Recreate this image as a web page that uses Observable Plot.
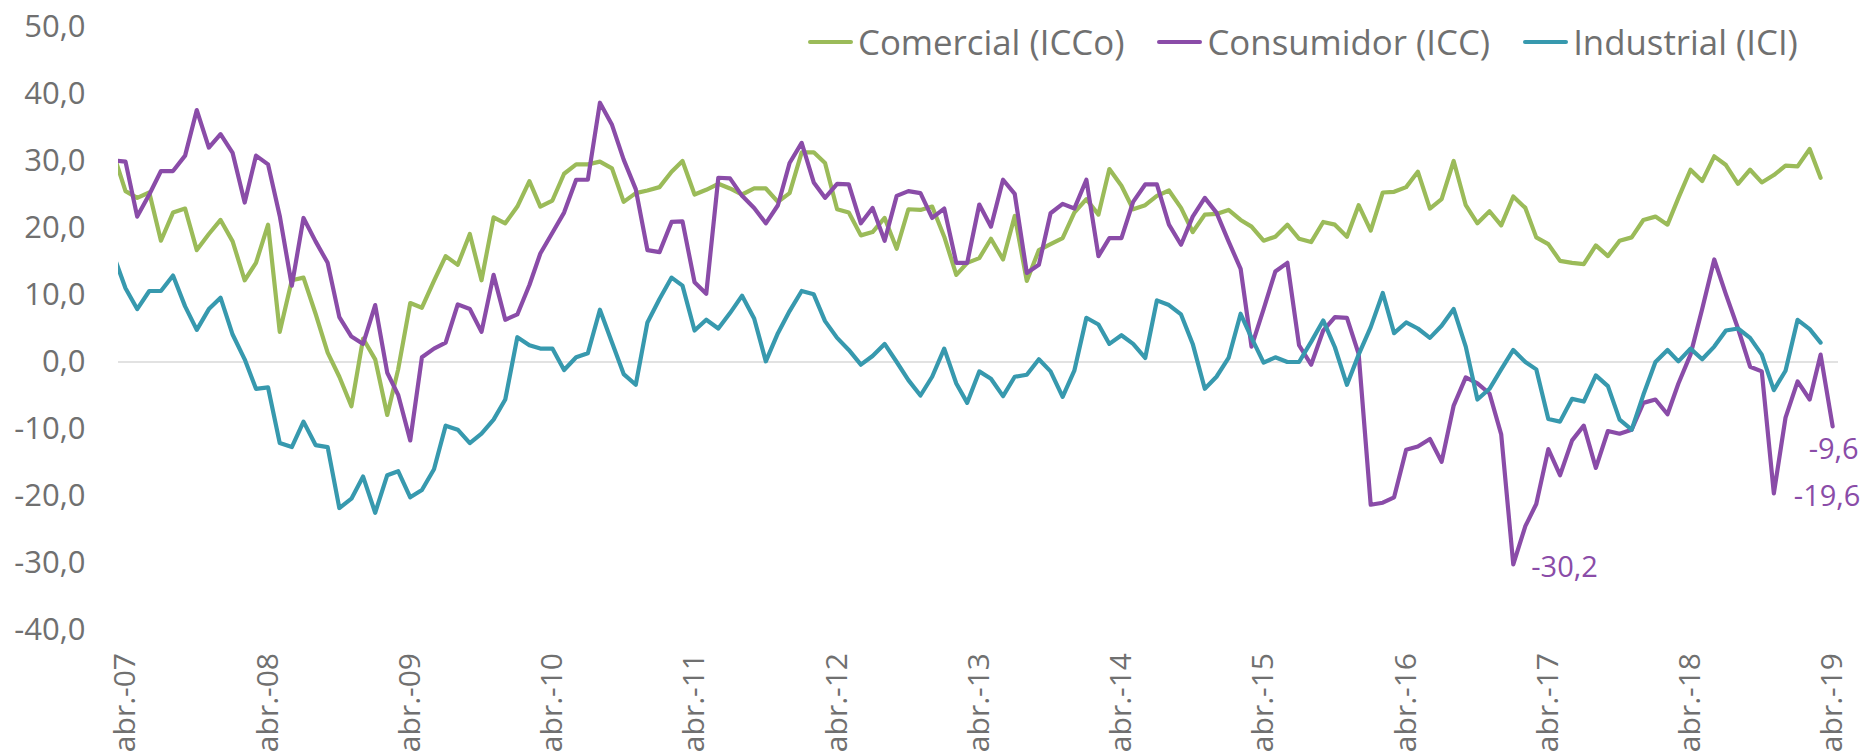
<!DOCTYPE html>
<html>
<head>
<meta charset="utf-8">
<script src="https://cdn.jsdelivr.net/npm/d3@7"></script>
<script src="https://cdn.jsdelivr.net/npm/@observablehq/plot@0.6"></script>
<style>
  html, body { margin: 0; padding: 0; background: #fff; }
  #wrap { position: relative; width: 1860px; height: 756px; overflow: hidden; }
  #legend { position: absolute; left: 808px; top: 25px; display: flex; align-items: center;
            font-family: "Open Sans", sans-serif; font-size: 34.8px; line-height: 34px; color: #707070; white-space: nowrap; }
  .item { display: flex; align-items: center; margin-right: 33px; }
  .sw { width: 45px; height: 4.5px; border-radius: 2px; margin-right: 5px; }
</style>
</head>
<body>
<div id="wrap"><div id="legend"></div></div>
<script>
// Series names and colours
const seriesNames = ["Comercial (ICCo)", "Consumidor (ICC)", "Industrial (ICI)"];
const seriesColors = ["#9BBB59", "#8A4CA8", "#3799AE"];

// Monthly values starting March 2007
const comercial = [31.1,
  25.5,24.5,25.3,18.1,22.3,22.9,16.7,19.1,21.2,18.0,12.2,14.8,
  20.5,4.5,12.2,12.6,7.2,1.4,-2.2,-6.6,3.5,0.4,-7.9,-1.1,
  8.8,8.1,12.1,15.8,14.5,19.1,12.2,21.6,20.7,23.2,27.0,23.2,
  24.1,28.1,29.5,29.5,29.9,28.9,23.9,25.2,25.6,26.1,28.4,30.0,
  25.0,25.7,26.6,25.9,25.0,25.9,25.9,23.9,25.2,31.3,31.3,29.7,
  22.8,22.3,18.9,19.4,21.5,16.9,22.8,22.7,23.2,18.7,13.0,14.8,
  15.5,18.4,15.3,21.8,12.1,16.7,17.6,18.5,22.3,24.3,22.0,28.8,
  26.3,22.8,23.4,24.8,25.6,23.0,19.4,22.0,22.1,22.7,21.2,20.2,
  18.1,18.7,20.5,18.4,17.9,20.9,20.5,18.7,23.4,19.6,25.3,25.4,
  26.1,28.4,22.9,24.3,30.0,23.4,20.7,22.5,20.4,24.7,23.0,18.6,
  17.6,15.1,14.8,14.6,17.4,15.8,18.1,18.6,21.2,21.7,20.5,24.5,
  28.7,27.0,30.7,29.4,26.6,28.7,26.8,27.9,29.3,29.2,31.8,27.5];

const consumidor = [30.1,
  29.9,21.7,25.0,28.5,28.5,30.8,37.6,32.0,34.0,31.2,23.8,30.8,
  29.5,21.8,11.4,21.5,18.0,14.8,6.7,3.8,2.7,8.5,-1.6,-4.9,
  -11.7,0.7,2.0,2.9,8.6,7.9,4.5,13.0,6.3,7.1,11.5,16.2,
  19.3,22.3,27.2,27.2,38.7,35.4,30.2,25.8,16.7,16.4,20.9,21.0,
  11.9,10.2,27.5,27.4,24.8,23.0,20.7,23.4,29.7,32.7,26.8,24.5,
  26.6,26.5,20.7,23.0,18.1,24.8,25.5,25.2,21.5,22.9,14.8,14.8,
  23.5,20.2,27.2,25.1,13.3,14.5,22.2,23.6,22.9,27.2,15.8,18.5,
  18.5,23.9,26.5,26.5,20.5,17.5,21.7,24.5,22.3,18.0,13.9,2.3,
  7.9,13.5,14.8,2.5,-0.4,4.7,6.7,6.6,1.2,-21.3,-21.0,-20.2,
  -13.1,-12.6,-11.5,-14.9,-6.5,-2.3,-3.2,-4.7,-10.8,-30.2,-24.5,-21.2,
  -13.0,-16.9,-11.7,-9.5,-15.8,-10.3,-10.7,-10.1,-6.1,-5.6,-7.8,-3.2,
  1.1,7.9,15.3,10.1,5.0,-0.7,-1.4,-19.6,-8.3,-2.9,-5.6,1.1,
  -9.6];

const industrial = [16.0,
  11.0,7.9,10.6,10.6,12.9,8.3,4.8,7.9,9.6,4.1,0.4,-4.0,
  -3.8,-12.1,-12.7,-8.9,-12.4,-12.7,-21.8,-20.4,-17.1,-22.5,-16.9,-16.3,
  -20.2,-19.1,-16.0,-9.5,-10.1,-12.1,-10.7,-8.6,-5.6,3.7,2.5,2.0,
  2.0,-1.2,0.7,1.3,7.8,2.9,-1.8,-3.4,5.9,9.4,12.6,11.4,
  4.7,6.3,5.0,7.3,9.9,6.5,0.1,4.3,7.6,10.6,10.1,6.1,
  3.6,1.8,-0.4,0.9,2.7,0.0,-2.7,-5.0,-2.2,2.0,-3.2,-6.1,
  -1.4,-2.5,-5.1,-2.2,-1.9,0.4,-1.4,-5.2,-1.3,6.6,5.6,2.7,
  4.0,2.7,0.6,9.2,8.5,7.1,2.7,-4.0,-2.2,0.6,7.2,3.6,
  -0.1,0.7,0.0,0.0,3.0,6.2,2.2,-3.4,1.1,5.2,10.3,4.3,
  5.9,5.0,3.6,5.4,7.9,2.3,-5.6,-4.0,-1.1,1.8,0.0,-1.1,
  -8.5,-8.9,-5.5,-5.9,-2.0,-3.6,-8.6,-10.1,-4.9,0.0,1.8,0.1,
  2.0,0.4,2.3,4.7,5.0,3.6,1.1,-4.2,-1.3,6.3,4.9,2.9];

// Axis ticks
const yTicks = [50, 40, 30, 20, 10, 0, -10, -20, -30, -40];
const tickLabels = ["abr.-07","abr.-08","abr.-09","abr.-10","abr.-11","abr.-12","abr.-13",
                    "abr.-14","abr.-15","abr.-16","abr.-17","abr.-18","abr.-19"];

// Annotated values (ICC)
const annLabels = ["-30,2", "-19,6", "-9,6"];
const annMonths = ["2017-01", "2018-11", "2019-04"];
const annValues = [-30.2, -19.6, -9.6];

// ---- build table ----
const start = new Date(Date.UTC(2007, 2, 1));
const monthAt = i => d3.utcMonth.offset(start, i);
const allSeries = [comercial, consumidor, industrial];
const rows = [];
allSeries.forEach((vals, s) => vals.forEach((v, i) => rows.push({date: monthAt(i), value: v, series: seriesNames[s]})));
const tickDates = tickLabels.map((_, k) => new Date(Date.UTC(2007 + k, 3, 1)));
const parseM = s => { const [y, m] = s.split("-").map(Number); return new Date(Date.UTC(y, m - 1, 1)); };
const ann = annLabels.map((t, k) => ({date: parseM(annMonths[k]), value: annValues[k], label: t}));
const fmtY = d => d.toFixed(1).replace(".", ",");
const fmtX = d => tickLabels[d.getUTCFullYear() - 2007];

const annStyle = {x: "date", y: "value", text: "label", fill: seriesColors[1], fontSize: 29, textAnchor: "start"};

const chart = Plot.plot({
  width: 1860,
  height: 756,
  marginLeft: 118,
  marginRight: 22,
  marginTop: 26.5,
  marginBottom: 126.5,
  style: {fontFamily: "'Open Sans', sans-serif", color: "#707070", background: "white"},
  x: {type: "utc", domain: [new Date(Date.UTC(2007, 2, 14)), new Date(Date.UTC(2019, 3, 16))]},
  y: {domain: [-40, 50]},
  color: {domain: seriesNames, range: seriesColors},
  marks: [
    Plot.ruleY([0], {stroke: "#D9D9D9", strokeWidth: 1.5}),
    Plot.line(rows, {x: "date", y: "value", z: "series", stroke: "series", strokeWidth: 4.2,
                     strokeLinejoin: "round", strokeLinecap: "round", clip: true}),
    Plot.axisY({ticks: yTicks, tickFormat: fmtY, tickSize: 0, tickPadding: 33, fontSize: 31, label: null}),
    Plot.axisX({ticks: tickDates, tickFormat: fmtX, tickRotate: -90, tickSize: 0, tickPadding: 23, fontSize: 30, label: null}),
    Plot.text([ann[0]], {...annStyle, dx: 18, dy: 3}),
    Plot.text([ann[1]], {...annStyle, dx: 20, dy: 3}),
    Plot.text([ann[2]], {...annStyle, dx: -24, dy: 23})
  ]
});
document.getElementById("wrap").prepend(chart);

// Legend
const legend = document.getElementById("legend");
seriesNames.forEach((name, k) => {
  const item = document.createElement("div");
  item.className = "item";
  const sw = document.createElement("div");
  sw.className = "sw";
  sw.style.background = seriesColors[k];
  const tx = document.createElement("span");
  tx.textContent = name;
  item.appendChild(sw);
  item.appendChild(tx);
  legend.appendChild(item);
});
</script>
</body>
</html>
